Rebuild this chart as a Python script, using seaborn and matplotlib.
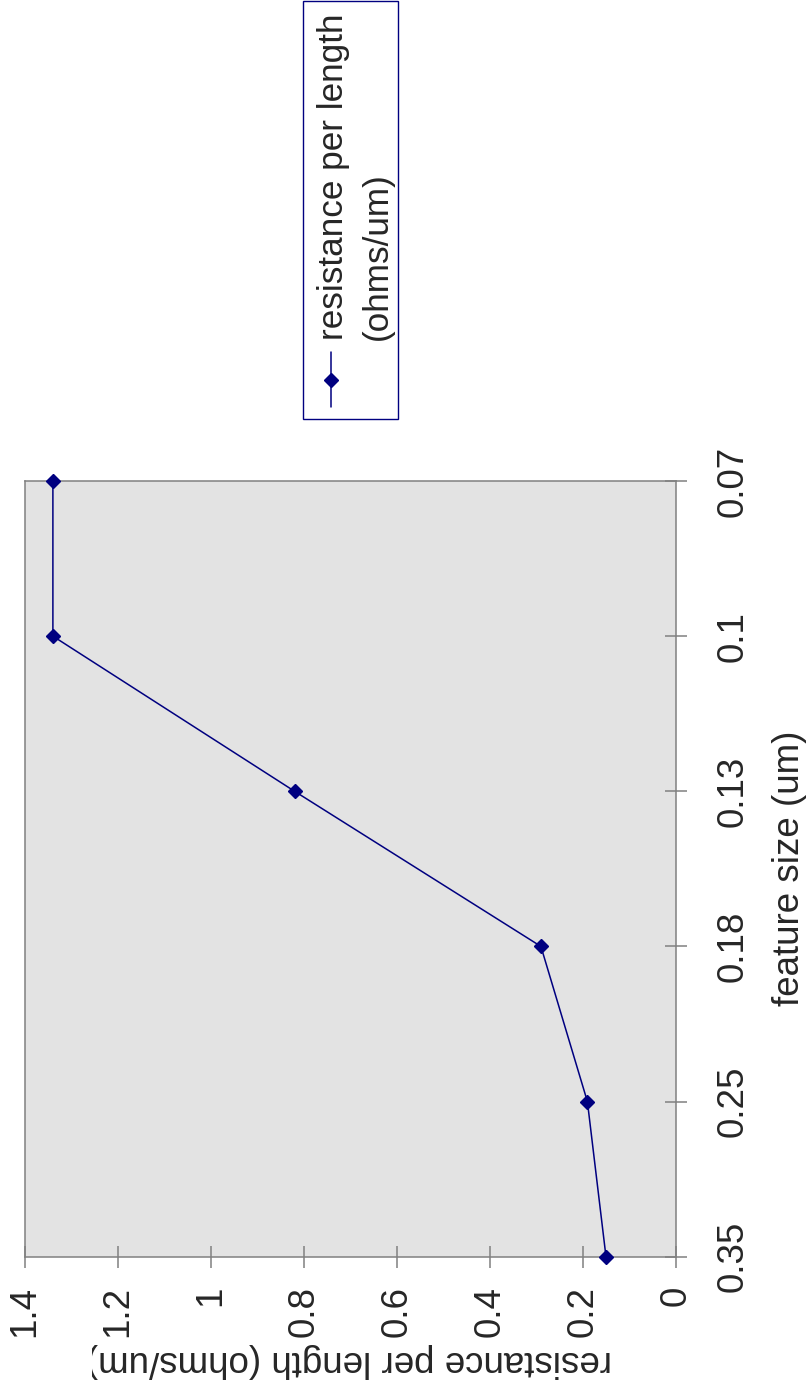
import matplotlib
matplotlib.use("Agg")
import matplotlib.pyplot as plt
import seaborn as sns
import pandas as pd
from matplotlib.lines import Line2D
from matplotlib.patches import Rectangle
from matplotlib.transforms import Bbox, TransformedBbox

# Chart data
feature_sizes = ["0.35", "0.25", "0.18", "0.13", "0.1", "0.07"]
resistance = [0.15, 0.19, 0.29, 0.82, 1.34, 1.34]
value_ticks = [0, 0.2, 0.4, 0.6, 0.8, 1.0, 1.2, 1.4]
value_tick_labels = ["0", "0.2", "0.4", "0.6", "0.8", "1", "1.2", "1.4"]
series_lines = ["resistance per length", "(ohms/um)"]
category_title = "feature size (um)"
value_title = "resistance per length (ohms/um)"

sns.set_style("white")
plt.rcParams["font.family"] = ["Liberation Sans", "DejaVu Sans"]

NAVY = "#000080"
GRAY = "#808080"
FS = 26.5
LEGEND_FS = 25.3

W, H = 807, 1394
fig = plt.figure(figsize=(W / 100, H / 100), dpi=100)


def fx(px):
    return px / W


def fy(py):
    return 1 - py / H


# The whole chart is laid out turned a quarter turn: values run right-to-left,
# categories run bottom-to-top.
ax = fig.add_axes([fx(25), fy(1256.7), fx(675.7) - fx(25), fy(481) - fy(1256.7)])
ax.set_facecolor("#E3E3E3")

df = pd.DataFrame({"resistance": resistance, "pos": list(range(len(feature_sizes)))})
sns.lineplot(data=df, x="resistance", y="pos", sort=False, estimator=None, ax=ax,
             color=NAVY, linewidth=1.1, marker="D", markersize=7.2,
             markeredgecolor=NAVY, markeredgewidth=1, clip_on=False, zorder=5)

ax.set_xlim(1.4, 0)
ax.set_ylim(0, len(feature_sizes) - 1)
ax.set_xticks(value_ticks, value_tick_labels)
ax.set_yticks(range(len(feature_sizes)), feature_sizes)
ax.yaxis.tick_right()
ax.set_xlabel("")
ax.set_ylabel("")

ax.tick_params(axis="x", direction="inout", length=16, width=1.1, color=GRAY,
               pad=13, labelsize=FS, labelrotation=90, bottom=True, top=False)
ax.tick_params(axis="y", direction="inout", length=16, width=1.1, color=GRAY,
               pad=21, labelsize=FS, labelrotation=90, right=True, left=False)
for lbl in ax.get_yticklabels():
    lbl.set_va("center")
    lbl.set_ha("left")

for s in ax.spines.values():
    s.set_color(GRAY)
    s.set_linewidth(1.1)
    s.set_visible(True)

# Axis titles
fig.text(fx(799), fy(868.5), category_title, rotation=90, rotation_mode="anchor",
         ha="center", va="baseline", fontsize=FS)
vt = fig.text(fx(612), fy(1351), value_title, rotation=180, rotation_mode="anchor",
              ha="left", va="baseline", fontsize=FS)
vt.set_clip_box(TransformedBbox(Bbox([[fx(92), 0], [1, 1]]), fig.transFigure))
vt.set_clip_on(True)

# Legend
fig.add_artist(Rectangle((fx(302.7), fy(419)), fx(398.3) - fx(302.7), fy(1) - fy(419),
                         transform=fig.transFigure, facecolor="white",
                         edgecolor=NAVY, linewidth=1))
fig.add_artist(Line2D([fx(331), fx(331)], [fy(352), fy(407)], transform=fig.transFigure,
                      color=NAVY, linewidth=1.1))
fig.add_artist(Line2D([fx(331)], [fy(380)], transform=fig.transFigure, color=NAVY,
                      marker="D", markersize=7.2, markeredgecolor=NAVY, markeredgewidth=1))
fig.text(fx(343), fy(340), series_lines[0], rotation=90, rotation_mode="anchor",
         ha="left", va="baseline", fontsize=LEGEND_FS)
fig.text(fx(387), fy(340), series_lines[1], rotation=90, rotation_mode="anchor",
         ha="left", va="baseline", fontsize=LEGEND_FS)

fig.savefig("out.png", dpi=100, facecolor="white")
